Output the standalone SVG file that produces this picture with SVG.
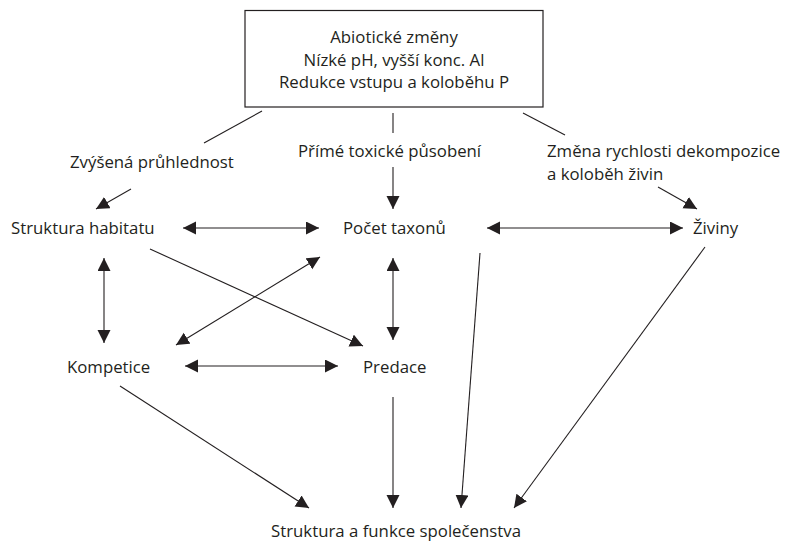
<svg xmlns="http://www.w3.org/2000/svg" width="785" height="543" viewBox="0 0 785 543">
<style>
text{font-family:"Open Sans","Liberation Sans",sans-serif;font-size:16.8px;fill:#231f20}
.c line{stroke:#231f20;stroke-width:1.1;fill:none}
.a{marker-end:url(#ah)}
.d{marker-start:url(#ah);marker-end:url(#ah)}
</style>
<defs>
<marker id="ah" markerUnits="userSpaceOnUse" markerWidth="14" markerHeight="14" refX="13" refY="6.5" orient="auto-start-reverse">
<path d="M0,0 L13,6.5 L0,13 z" fill="#231f20"/>
</marker>
</defs>
<rect width="785" height="543" fill="#fff"/>
<g id="abioticke">
<rect x="245" y="10.5" width="298" height="96.5" fill="#fff" stroke="#231f20" stroke-width="1.2"/>
<text x="394" y="43" text-anchor="middle">Abiotické změny</text>
<text x="394" y="66" text-anchor="middle">Nízké pH, vyšší konc. Al</text>
<text x="394" y="88" text-anchor="middle">Redukce vstupu a koloběhu P</text>
</g>
<g id="pruhlednost"><text x="70" y="168">Zvýšená průhlednost</text></g>
<g id="toxicke"><text x="298" y="157">Přímé toxické působení</text></g>
<g id="dekompozice"><text x="547" y="157">Změna rychlosti dekompozice</text><text x="547" y="180">a koloběh živin</text></g>
<g id="habitat"><text x="11" y="234">Struktura habitatu</text></g>
<g id="taxony"><text x="343" y="234">Počet taxonů</text></g>
<g id="ziviny"><text x="693" y="234">Živiny</text></g>
<g id="kompetice"><text x="67" y="373">Kompetice</text></g>
<g id="predace"><text x="363" y="373">Predace</text></g>
<g id="spolecenstvo"><text x="271" y="537">Struktura a funkce společenstva</text></g>
<g id="connectors" class="c">
<line x1="262" y1="111" x2="204" y2="143"/>
<line x1="393" y1="113" x2="393" y2="133"/>
<line x1="523" y1="113" x2="565" y2="135"/>
<line class="a" x1="131" y1="189" x2="96" y2="209"/>
<line class="a" x1="393" y1="167" x2="393" y2="209"/>
<line class="a" x1="658" y1="187" x2="697" y2="209"/>
<line class="d" x1="183" y1="228" x2="319" y2="228"/>
<line class="d" x1="487" y1="228" x2="683" y2="228"/>
<line class="d" x1="104" y1="258" x2="104" y2="343"/>
<line class="d" x1="176" y1="345" x2="320" y2="257"/>
<line class="a" x1="150" y1="249" x2="363" y2="346"/>
<line class="d" x1="393" y1="258" x2="393" y2="340"/>
<line class="d" x1="185" y1="366" x2="338" y2="366"/>
<line class="a" x1="120" y1="386" x2="309" y2="508"/>
<line class="a" x1="393" y1="397" x2="393" y2="508"/>
<line class="a" x1="480" y1="253" x2="461" y2="508"/>
<line class="a" x1="705" y1="247" x2="514" y2="508"/>
</g>
</svg>
